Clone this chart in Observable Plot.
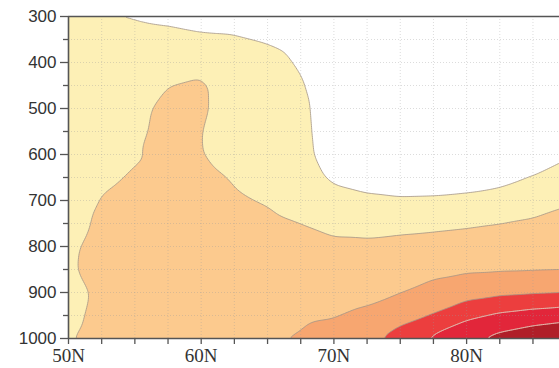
<!DOCTYPE html>
<html><head><meta charset="utf-8">
<script src="https://cdn.jsdelivr.net/npm/d3@7"></script>
<script src="https://cdn.jsdelivr.net/npm/@observablehq/plot@0.6"></script>
<style>
body{margin:0;background:#fff;overflow:hidden}
#chart svg{display:block}
</style>
</head><body><div id="chart"></div>
<script>
// latitude columns (deg N) and pressure levels (hPa)
const lats = [50, 52.5, 55, 57.5, 60, 62.5, 65, 67.5, 70, 72.5, 75, 77.5, 80, 82.5, 85, 87.5, 90];
const levels = [300, 350, 400, 450, 500, 550, 600, 650, 700, 750, 800, 850, 900, 950, 1000];
// field values, one array per latitude column (top to bottom = levels)
const c50   = [1.2, 1.3, 1.4, 1.45, 1.5, 1.5, 1.5, 1.52, 1.54, 1.58, 1.8, 1.83, 1.47, 1.63, 1.9];
const c52_5 = [0.99, 1.15, 1.3, 1.42, 1.52, 1.62, 1.74, 1.88, 2.04, 2.2, 2.35, 2.45, 2.3, 2.4, 2.5];
const c55   = [0.97, 1.12, 1.4, 1.6, 1.73, 1.8, 1.94, 2.06, 2.2, 2.3, 2.4, 2.45, 2.45, 2.5, 2.55];
const c57_5 = [0.93, 1.1, 1.75, 1.98, 2.25, 2.3, 2.15, 2.2, 2.3, 2.4, 2.45, 2.5, 2.55, 2.6, 2.65];
const c60   = [0.88, 1.05, 1.8, 2.1, 2.1, 2.02, 2.03, 2.2, 2.3, 2.4, 2.5, 2.55, 2.6, 2.65, 2.7];
const c62_5 = [0.85, 1.03, 1.25, 1.65, 1.68, 1.65, 1.7, 1.95, 2.06, 2.25, 2.38, 2.5, 2.6, 2.72, 2.84];
const c65   = [0.8, 0.96, 1.15, 1.25, 1.3, 1.35, 1.45, 1.6, 1.95, 2.15, 2.35, 2.5, 2.65, 2.8, 2.96];
const c67_5 = [0.75, 0.85, 0.95, 1.06, 1.15, 1.18, 1.22, 1.4, 1.7, 2.0, 2.25, 2.45, 2.65, 2.87, 3.06];
const c70   = [0.45, 0.5, 0.55, 0.6, 0.62, 0.64, 0.66, 0.85, 1.33, 1.79, 2.15, 2.4, 2.66, 2.94, 3.35];
const c72_5 = [0.3, 0.33, 0.36, 0.4, 0.44, 0.5, 0.56, 0.65, 1.16, 1.72, 2.15, 2.46, 2.77, 3.16, 3.76];
const c75   = [0.26, 0.28, 0.3, 0.33, 0.38, 0.44, 0.5, 0.6, 1.07, 1.76, 2.24, 2.6, 2.96, 3.64, 4.45];
const c77_5 = [0.25, 0.27, 0.3, 0.33, 0.37, 0.42, 0.5, 0.62, 1.09, 1.81, 2.32, 2.76, 3.32, 4.05, 5.23];
const c80   = [0.25, 0.27, 0.3, 0.33, 0.37, 0.43, 0.52, 0.65, 1.17, 1.89, 2.4, 2.88, 3.6, 4.76, 5.89];
const c82_5 = [0.25, 0.28, 0.31, 0.35, 0.4, 0.46, 0.55, 0.72, 1.36, 2.0, 2.45, 2.91, 3.8, 5.18, 6.33];
const c85   = [0.26, 0.29, 0.33, 0.37, 0.42, 0.5, 0.6, 1.02, 1.6, 2.12, 2.53, 2.93, 3.89, 5.44, 6.7];
const c87_5 = [0.27, 0.3, 0.35, 0.4, 0.47, 0.55, 0.88, 1.39, 1.9, 2.27, 2.61, 2.95, 3.96, 5.65, 6.95];
const c90   = [0.3, 0.34, 0.38, 0.44, 0.5, 0.83, 1.25, 1.67, 2.06, 2.36, 2.66, 2.96, 4.0, 5.76, 7.1];
const columns = [c50, c52_5, c55, c57_5, c60, c62_5, c65, c67_5, c70, c72_5, c75, c77_5, c80, c82_5, c85, c87_5, c90];

const thresholds = [1, 2, 3, 4, 5, 6];
const bandColors = ["#fdf0b6", "#fcca8e", "#f7a670", "#ec3e3e", "#e2263a", "#b01e28"];
const lightLines = [5, 6];

const yTicks = [300, 400, 500, 600, 700, 800, 900, 1000];
const yMinor = [350, 450, 550, 650, 750, 850, 950];
const xTicks = [50, 60, 70, 80];
const xTickLabels = ["50N", "60N", "70N", "80N"];
const xMinor = [52.5, 55, 57.5, 62.5, 65, 67.5, 72.5, 75, 77.5, 82.5, 85];
const gridX = [52.5, 55, 57.5, 60, 62.5, 65, 67.5, 70, 72.5, 75, 77.5, 80, 82.5, 85];
const gridY = [350, 400, 450, 500, 550, 600, 650, 700, 750, 800, 850, 900, 950];

const points = [];
lats.forEach((lat, i) => levels.forEach((p, j) => points.push({lat, p, v: columns[i][j]})));

const common = {x: "lat", y: "p", interpolate: "barycentric", blur: 2, x1: 50, x2: 88.5, y1: 300, y2: 1000, clip: true};
const axisColor = "#555";

const chart = Plot.plot({
  width: 559, height: 368,
  marginLeft: 68, marginRight: 0, marginTop: 16, marginBottom: 30,
  x: {domain: [50, 87], axis: null, label: null},
  y: {domain: [1000, 300], axis: null, label: null},
  color: {type: "ordinal", domain: thresholds, range: bandColors},
  style: {background: "white", overflow: "visible"},
  marks: [
    Plot.contour(points, {...common, fill: "v", thresholds, stroke: "#a39487", strokeWidth: 0.8}),
    Plot.contour(points, {...common, value: "v", thresholds: lightLines, fill: "none", stroke: "#f6b4aa", strokeWidth: 0.9}),
    Plot.gridX(gridX, {stroke: "#9a9a9a", strokeOpacity: 0.35, strokeDasharray: "1,2"}),
    Plot.gridY(gridY, {stroke: "#9a9a9a", strokeOpacity: 0.35, strokeDasharray: "1,2"}),
    Plot.ruleY([300, 1000], {stroke: axisColor, strokeWidth: 1.6}),
    Plot.ruleX([50], {stroke: axisColor, strokeWidth: 1.6}),
    Plot.axisY(yTicks, {label: null, tickSize: 8, tickPadding: 4, fontSize: 17, color: "#333", stroke: axisColor, strokeWidth: 1.3, tickFormat: d => String(d)}),
    Plot.axisY(yMinor, {label: null, tickSize: 5, tickFormat: () => "", stroke: axisColor, strokeWidth: 1.3}),
    Plot.axisX(xTicks, {label: null, tickSize: 6, tickPadding: 4, fontSize: 19, color: "#333", stroke: axisColor, strokeWidth: 1.3, tickFormat: d => xTickLabels[xTicks.indexOf(d)]}),
    Plot.axisX(xMinor, {label: null, tickSize: 6, tickFormat: () => "", stroke: axisColor, strokeWidth: 1.3})
  ]
});
// fonts: sans-serif pressure labels, serif latitude labels
chart.querySelectorAll("text").forEach(t => {
  const s = t.textContent;
  if (xTickLabels.includes(s)) {
    t.style.fontFamily = "'Liberation Serif', 'DejaVu Serif', serif";
    t.style.fontSize = "19px";
  } else {
    t.style.fontFamily = "'Liberation Sans', Arial, sans-serif";
    t.style.fontSize = "17px";
  }
  t.style.fill = "#333";
});
document.getElementById("chart").append(chart);
</script>
</body></html>
